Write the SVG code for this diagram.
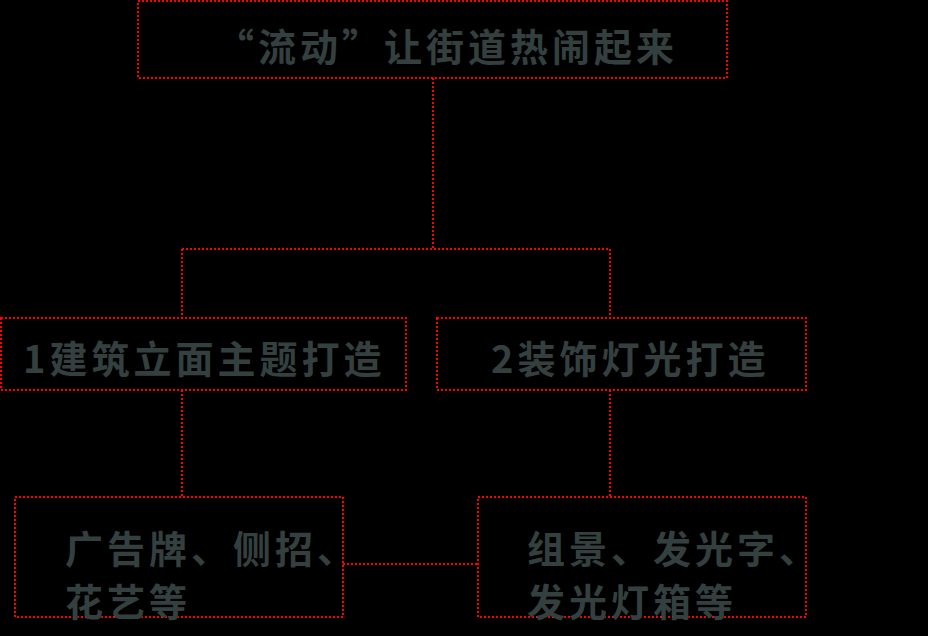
<svg xmlns="http://www.w3.org/2000/svg" width="928" height="636" viewBox="0 0 928 636">
<style>
.box{fill:none;stroke:#ff0000;stroke-width:2;stroke-dasharray:2 2}
.ln{fill:none;stroke:#ff0000;stroke-width:2;stroke-dasharray:2 2}
.t{fill:#34403f;font-family:"Noto Sans CJK SC","Noto Sans CJK TC",sans-serif;font-size:38px;font-weight:bold;letter-spacing:4px}
</style>
<rect width="928" height="636" fill="#000"/>
<g id="connectors">
<path class="ln" d="M433 78V249M182 249H610M182 249V318M610 249V318"/>
<path class="ln" d="M182 390V497M610 390V497"/>
<path class="ln" d="M343 564H478"/>
</g>
<g id="top">
<rect class="box" x="138" y="1" width="589" height="77"/>
<text class="t" x="216" y="61">“流动”让街道热闹起来</text>
</g>
<g id="n1">
<rect class="box" x="1" y="318" width="405" height="72"/>
<text class="t" x="23" y="373">1建筑立面主题打造</text>
</g>
<g id="n2">
<rect class="box" x="437" y="318" width="369" height="72"/>
<text class="t" x="491" y="373">2装饰灯光打造</text>
</g>
<g id="n3">
<rect class="box" x="15" y="497" width="328" height="120"/>
<text class="t" x="65" y="563">广告牌、侧招、</text>
<text class="t" x="65" y="616">花艺等</text>
</g>
<g id="n4">
<rect class="box" x="478" y="497" width="328" height="120"/>
<text class="t" x="527" y="563">组景、发光字、</text>
<text class="t" x="527" y="616">发光灯箱等</text>
</g>
</svg>
